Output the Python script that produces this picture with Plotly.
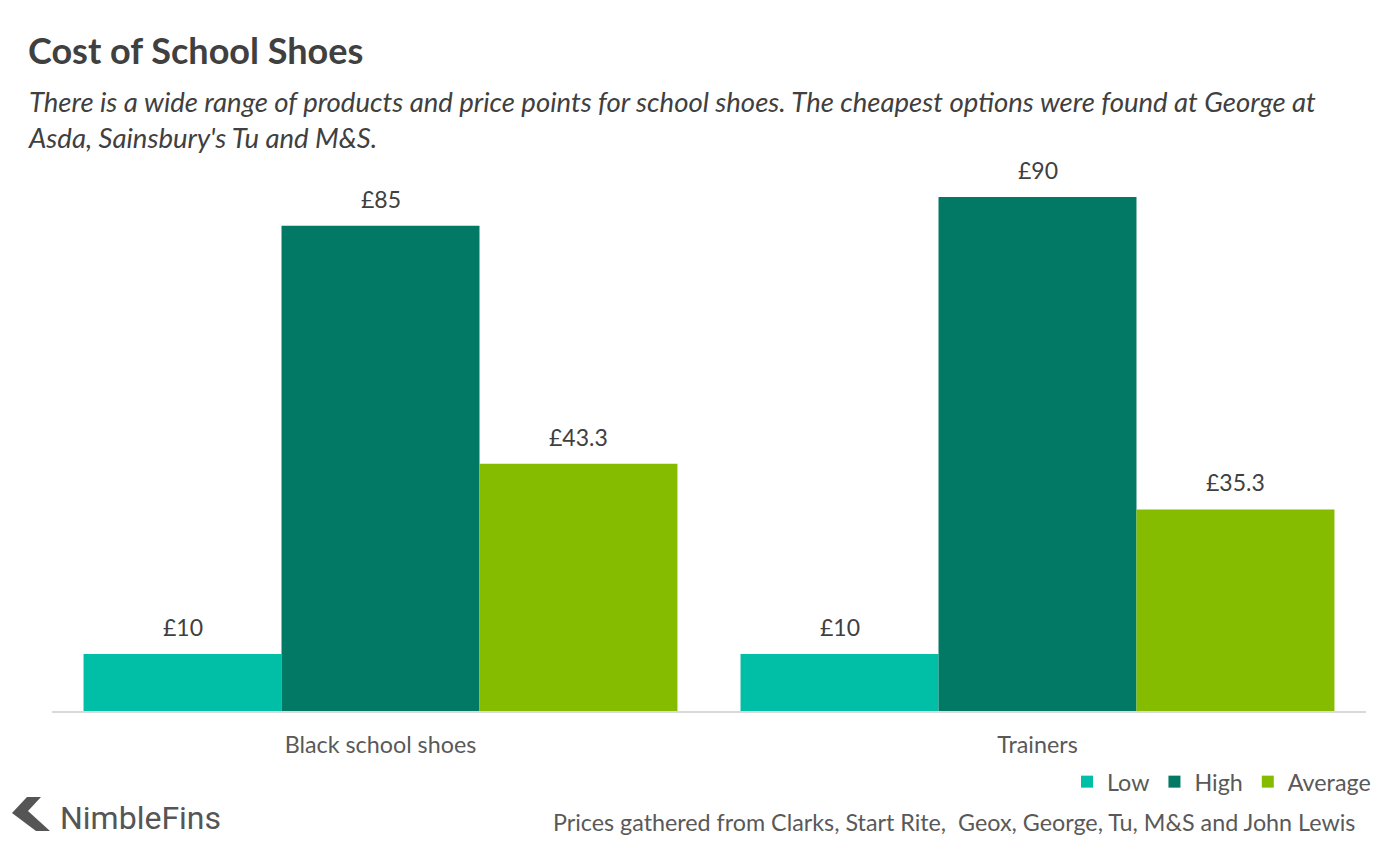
import plotly.graph_objects as go

categories = ["Black school shoes", "Trainers"]
series_names = ["Low", "High", "Average"]
low_values = [10, 10]
high_values = [85, 90]
average_values = [43.3, 35.3]
label_texts = {
    "Low": ["£10", "£10"],
    "High": ["£85", "£90"],
    "Average": ["£43.3", "£35.3"],
}
colors = {"Low": "#00BFA6", "High": "#027965", "Average": "#86BC00"}

series_values = {"Low": low_values, "High": high_values, "Average": average_values}

FONT = "Lato"
W, H = 1400, 852
L, R, T, B = 52, 34, 140, 141
pw = W - L - R
ph = H - T - B

def px_x(x):
    return (x - L) / pw

def px_y(y):
    return (H - B - y) / ph

fig = go.Figure()
for name in series_names:
    fig.add_trace(go.Bar(
        x=categories, y=series_values[name], name=name,
        marker=dict(color=colors[name], line=dict(width=0)),
        offsetgroup=name,
    ))

annotations = [
    dict(text="<b>Cost of School Shoes</b>", xref="paper", yref="paper",
         x=px_x(26), y=px_y(50), xanchor="left", yanchor="middle", showarrow=False,
         font=dict(family=FONT, size=36, color="#404040")),
    dict(text="<i>There is a wide range of products and price points for school shoes. The cheapest options were found at George at<br>Asda, Sainsbury's Tu and M&S.</i>",
         xref="paper", yref="paper", x=px_x(26), y=px_y(120), xanchor="left", yanchor="middle",
         align="left", showarrow=False,
         font=dict(family=FONT, size=27.5, color="#404040")),
    dict(text="Prices gathered from Clarks, Start Rite,  Geox, George, Tu, M&S and John Lewis",
         xref="paper", yref="paper", x=px_x(1357), y=px_y(822), xanchor="right", yanchor="middle",
         showarrow=False, font=dict(family=FONT, size=23.3, color="#595959")),
    dict(text="NimbleFins", xref="paper", yref="paper", x=px_x(58), y=px_y(818),
         xanchor="left", yanchor="middle", showarrow=False,
         font=dict(family="Roboto", size=32, color="#555555")),
]

# data labels above each bar, derived from the data
n = len(series_names)
for i, name in enumerate(series_names):
    for j, cat in enumerate(categories):
        annotations.append(dict(
            x=j, y=series_values[name][j], xref="x", yref="y",
            text=label_texts[name][j], showarrow=False,
            xshift=0, yshift=27, yanchor="middle",
            font=dict(family=FONT, size=23, color="#404040"),
        ))

chev = [(12, 813), (27, 797), (41, 797), (28, 811), (50, 831), (36, 831)]
path = "M " + " L ".join(f"{px_x(x)},{px_y(y)}" for x, y in chev) + " Z"

fig.update_layout(
    width=W, height=H,
    margin=dict(l=L, r=R, t=T, b=B),
    paper_bgcolor="white", plot_bgcolor="white",
    barmode="group", bargap=0.096, bargroupgap=0,
    showlegend=True,
    legend=dict(orientation="h", x=px_x(1376), xanchor="right", y=px_y(782), yanchor="middle",
                font=dict(family=FONT, size=23.3, color="#595959"),
                itemwidth=30, tracegroupgap=0, bgcolor="rgba(0,0,0,0)"),
    xaxis=dict(showline=True, linecolor="#D9D9D9", linewidth=2, ticks="",
               tickfont=dict(family=FONT, size=23.3, color="#595959"),
               ticklabelstandoff=12, showgrid=False),
    yaxis=dict(range=[0, 100], visible=False, showgrid=False, zeroline=False),
    annotations=annotations,
    shapes=[dict(type="path", path=path, xref="paper", yref="paper",
                 fillcolor="#555555", line=dict(width=0))],
    font=dict(family=FONT),
)

# position data labels at bar centres within each group
group_w = 1 - 0.096
bar_w = group_w / n
k = 0
for i, name in enumerate(series_names):
    for j, cat in enumerate(categories):
        fig.layout.annotations[4 + k].x = j - group_w / 2 + bar_w * (i + 0.5)
        k += 1

fig.write_html("out.html")
